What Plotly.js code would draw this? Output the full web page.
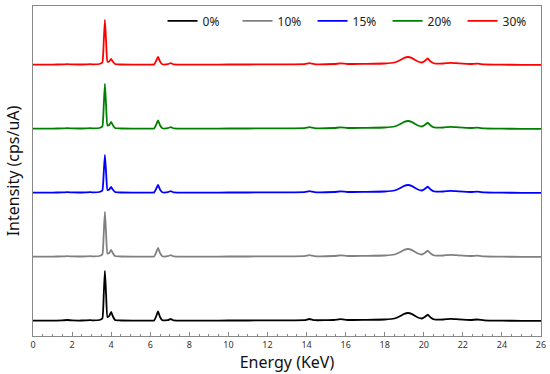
<!DOCTYPE html>
<html>
<head>
<meta charset="utf-8">
<script src="https://cdn.plot.ly/plotly-3.0.1.min.js"></script>
<style>html,body{margin:0;padding:0;background:#fff;}#chart{width:550px;height:374px;}</style>
</head>
<body>
<div id="chart"></div>
<script>
// Energy axis (keV), shared by all spectra
const energy = [0, 0.5, 1.0, 1.5, 1.75, 2.0, 2.5, 2.95, 3.1, 3.4, 3.55, 3.62, 3.68, 3.74, 3.81, 3.9, 4.0, 4.08, 4.2, 4.5,
  5.5, 6.2, 6.3, 6.4, 6.5, 6.62, 6.9, 7.05, 7.2, 8, 9, 10, 11, 12, 13, 13.9, 14.15, 14.4, 15.4, 15.75,
  16.1, 17, 18, 18.5, 18.8, 19.0, 19.2, 19.4, 19.7, 19.9, 20.05, 20.2, 20.35, 20.55, 21.0, 21.4, 21.8, 22.4, 22.75, 23.1,
  24, 25, 26];

const seriesNames = ["0%", "10%", "15%", "20%", "30%"];
const seriesColors = ["#000000", "#808080", "#0000ff", "#008000", "#ff0000"];
const offsets = [0, 64, 128, 192, 256];

const int0 = [0.3, 0.3, 0.4, 0.6, 1.0, 0.6, 0.5, 0.8, 0.6, 1.0, 2.5, 26, 50, 27, 4, 5, 9, 5, 1, 0.5,
  0.4, 0.6, 4.5, 9.5, 4, 0.8, 0.8, 2, 0.6, 0.4, 0.4, 0.5, 0.5, 0.6, 0.7, 0.8, 2, 0.8, 1, 1.8,
  1, 1.2, 1.5, 2.5, 5, 7.2, 8, 6.8, 3.5, 2.5, 4, 6.3, 3.5, 1.5, 1.5, 2.2, 1.6, 1, 1.5, 0.6,
  0.3, 0.2, 0.2];
const int10 = [0.3, 0.3, 0.4, 0.6, 0.9, 0.6, 0.5, 0.8, 0.6, 1.0, 2.5, 23, 45, 24, 3.5, 4, 7, 4, 1, 0.5,
  0.4, 0.6, 4.5, 9, 4, 0.8, 0.8, 1.8, 0.6, 0.4, 0.4, 0.5, 0.5, 0.6, 0.7, 0.8, 1.8, 0.8, 1, 1.6,
  1, 1.2, 1.5, 2.5, 5, 7.2, 8, 6.8, 3.5, 2.5, 4, 6.3, 3.5, 1.5, 1.5, 2.2, 1.6, 1, 1.4, 0.6,
  0.3, 0.2, 0.2];
const int15 = [0.3, 0.3, 0.4, 0.6, 0.9, 0.6, 0.5, 0.8, 0.6, 1.0, 2.5, 20, 38, 21, 3, 3.5, 6, 3.5, 1, 0.5,
  0.4, 0.6, 4, 8, 3.5, 0.8, 0.8, 1.8, 0.6, 0.4, 0.4, 0.5, 0.5, 0.6, 0.7, 0.8, 1.8, 0.8, 1, 1.6,
  1, 1.2, 1.5, 2.5, 5, 7.2, 8, 6.8, 3.5, 2.5, 4, 6.3, 3.5, 1.5, 1.5, 2.2, 1.6, 1, 1.4, 0.6,
  0.3, 0.2, 0.2];
const int20 = [0.3, 0.3, 0.4, 0.6, 0.9, 0.6, 0.5, 0.8, 0.6, 1.0, 2.5, 23, 45, 24, 3.5, 4, 7, 4, 1, 0.5,
  0.4, 0.6, 4.2, 8.5, 3.8, 0.8, 0.8, 1.8, 0.6, 0.4, 0.4, 0.5, 0.5, 0.6, 0.7, 0.8, 1.8, 0.8, 1, 1.6,
  1, 1.2, 1.5, 2.5, 5, 7.2, 8, 6.8, 3.5, 2.5, 4, 6.3, 3.5, 1.5, 1.5, 2.2, 1.6, 1, 1.4, 0.6,
  0.3, 0.2, 0.2];
const int30 = [0.3, 0.3, 0.4, 0.6, 0.9, 0.6, 0.5, 0.8, 0.6, 1.0, 2.5, 23, 45, 24, 3.5, 3.5, 6, 3.5, 1, 0.5,
  0.4, 0.6, 4, 8, 3.5, 0.8, 0.8, 1.8, 0.6, 0.4, 0.4, 0.5, 0.5, 0.6, 0.7, 0.8, 1.8, 0.8, 1, 1.6,
  1, 1.2, 1.5, 2.5, 5, 7.2, 8, 6.8, 3.5, 2.5, 4, 6.5, 3.5, 1.5, 1.5, 2.2, 1.6, 1, 1.4, 0.6,
  0.3, 0.2, 0.2];
const intensities = [int0, int10, int15, int20, int30];

const xTickVals = [0, 2, 4, 6, 8, 10, 12, 14, 16, 18, 20, 22, 24, 26];

const traces = intensities.map((arr, i) => ({
  x: energy,
  y: arr.map(v => v + offsets[i]),
  type: "scatter",
  mode: "lines",
  name: seriesNames[i],
  line: {color: seriesColors[i], width: 1.8, shape: "spline", smoothing: 0.4}
}));

const layout = {
  width: 550, height: 374,
  margin: {l: 33, r: 9, t: 6, b: 38},
  paper_bgcolor: "#ffffff",
  plot_bgcolor: "#ffffff",
  font: {family: "Noto Sans, sans-serif", color: "#222"},
  showlegend: true,
  legend: {
    orientation: "h", x: 0.255, xanchor: "left", y: 0.955, yanchor: "middle",
    font: {size: 12, color: "#222"}, entrywidth: 30, entrywidthmode: "pixels",
    bgcolor: "rgba(0,0,0,0)", tracegroupgap: 0
  },
  xaxis: {
    range: [0, 26], tickvals: xTickVals, ticktext: xTickVals.map(String),
    ticks: "inside", ticklen: 4, tickcolor: "#888", tickwidth: 1,
    minor: {dtick: 0.5, ticks: "inside", ticklen: 2, tickcolor: "#888", showgrid: false},
    showline: true, linecolor: "#888", linewidth: 1, mirror: true,
    showgrid: false, zeroline: false,
    tickfont: {size: 9, color: "#333"},
    title: {text: "Energy (KeV)", font: {size: 16, color: "#111"}, standoff: 4}
  },
  yaxis: {
    range: [-15, 315], showticklabels: false, ticks: "",
    showline: true, linecolor: "#888", linewidth: 1, mirror: true,
    showgrid: false, zeroline: false,
    title: {text: "Intensity (cps/uA)", font: {size: 16, color: "#111"}, standoff: 8}
  }
};

Plotly.newPlot("chart", traces, layout, {displayModeBar: false, staticPlot: true});
</script>
</body>
</html>
